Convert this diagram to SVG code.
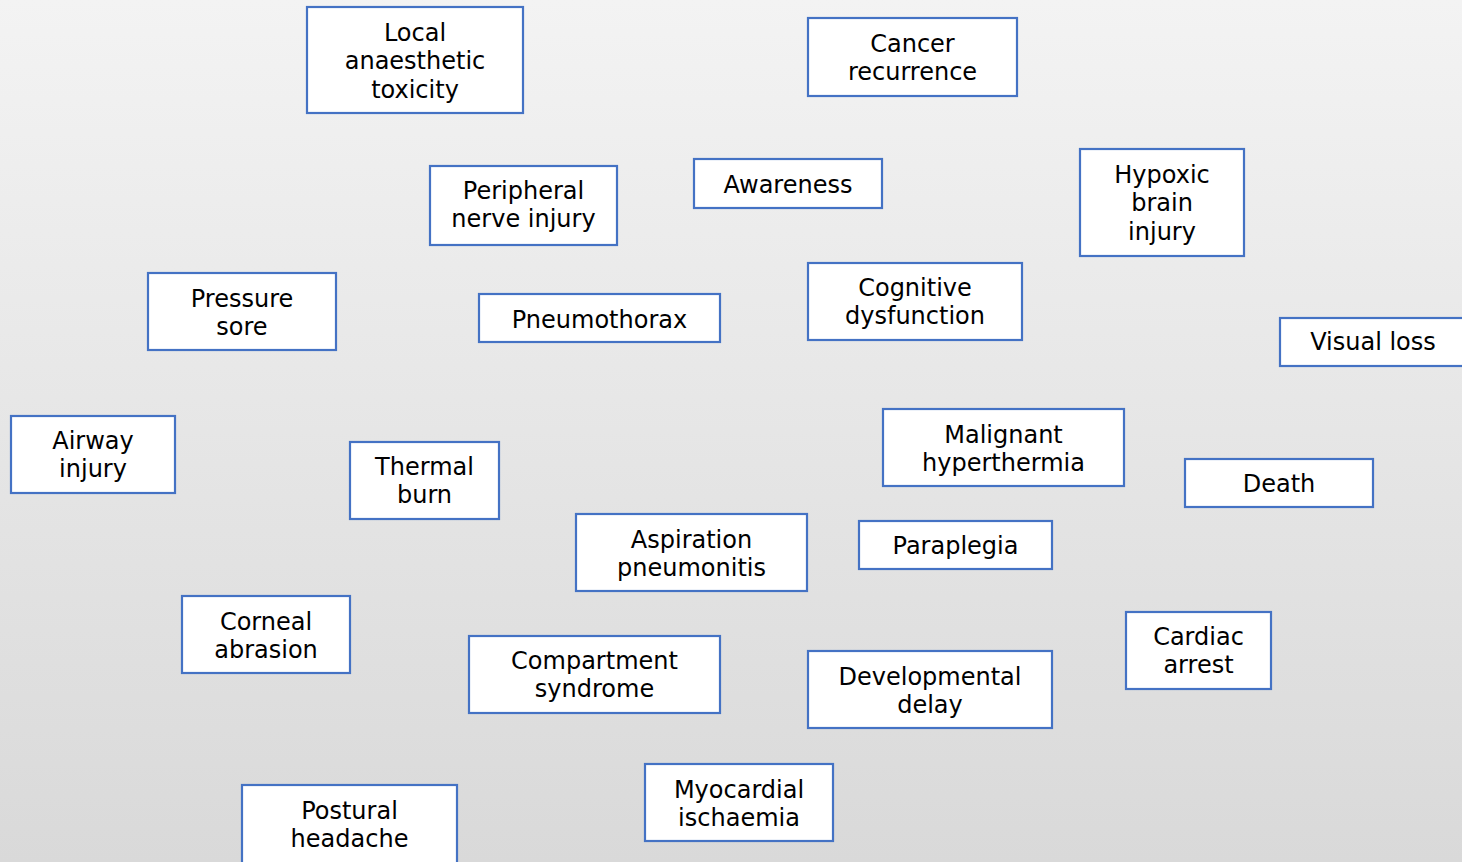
<svg xmlns="http://www.w3.org/2000/svg" width="1462" height="862" viewBox="0 0 1462 862">
<defs>
<linearGradient id="bg" x1="0" y1="0" x2="0" y2="1">
<stop offset="0" stop-color="#f3f3f3"/>
<stop offset="1" stop-color="#d9d9d9"/>
</linearGradient>
<style>
.box{fill:#ffffff;stroke:#4472c4;stroke-width:2.2}
.t{font-family:"DejaVu Sans",Verdana,sans-serif;font-size:24px;fill:#000000;text-anchor:middle}
</style>
</defs>
<rect x="0" y="0" width="1462" height="862" fill="url(#bg)"/>
<g id="connectors"></g>
<g id="n1"><rect class="box" x="307" y="7" width="216" height="106"/><text class="t"><tspan x="415" y="40.5">Local</tspan><tspan x="415" y="69">anaesthetic</tspan><tspan x="415" y="97.5">toxicity</tspan></text></g>
<g id="n2"><rect class="box" x="808" y="18" width="209" height="78"/><text class="t"><tspan x="912.5" y="51.5">Cancer</tspan><tspan x="912.5" y="80">recurrence</tspan></text></g>
<g id="n3"><rect class="box" x="430" y="166" width="187" height="79"/><text class="t"><tspan x="523.5" y="198.5">Peripheral</tspan><tspan x="523.5" y="227">nerve injury</tspan></text></g>
<g id="n4"><rect class="box" x="694" y="159" width="188" height="49"/><text class="t"><tspan x="788" y="192.5">Awareness</tspan></text></g>
<g id="n5"><rect class="box" x="1080" y="149" width="164" height="107"/><text class="t"><tspan x="1162" y="182.5">Hypoxic</tspan><tspan x="1162" y="211">brain</tspan><tspan x="1162" y="239.5">injury</tspan></text></g>
<g id="n6"><rect class="box" x="148" y="273" width="188" height="77"/><text class="t"><tspan x="242" y="306.5">Pressure</tspan><tspan x="242" y="335">sore</tspan></text></g>
<g id="n7"><rect class="box" x="479" y="294" width="241" height="48"/><text class="t"><tspan x="599.5" y="327.5">Pneumothorax</tspan></text></g>
<g id="n8"><rect class="box" x="808" y="263" width="214" height="77"/><text class="t"><tspan x="915" y="295.5">Cognitive</tspan><tspan x="915" y="324">dysfunction</tspan></text></g>
<g id="n9"><rect class="box" x="1280" y="318" width="190" height="48"/><text class="t"><tspan x="1373" y="349.5">Visual loss</tspan></text></g>
<g id="n10"><rect class="box" x="11" y="416" width="164" height="77"/><text class="t"><tspan x="93" y="448.5">Airway</tspan><tspan x="93" y="477">injury</tspan></text></g>
<g id="n11"><rect class="box" x="350" y="442" width="149" height="77"/><text class="t"><tspan x="424.5" y="474.5">Thermal</tspan><tspan x="424.5" y="503">burn</tspan></text></g>
<g id="n12"><rect class="box" x="883" y="409" width="241" height="77"/><text class="t"><tspan x="1003.5" y="442.5">Malignant</tspan><tspan x="1003.5" y="471">hyperthermia</tspan></text></g>
<g id="n13"><rect class="box" x="1185" y="459" width="188" height="48"/><text class="t"><tspan x="1279" y="491.5">Death</tspan></text></g>
<g id="n14"><rect class="box" x="576" y="514" width="231" height="77"/><text class="t"><tspan x="691.5" y="547.5">Aspiration</tspan><tspan x="691.5" y="576">pneumonitis</tspan></text></g>
<g id="n15"><rect class="box" x="859" y="521" width="193" height="48"/><text class="t"><tspan x="955.5" y="553.5">Paraplegia</tspan></text></g>
<g id="n16"><rect class="box" x="182" y="596" width="168" height="77"/><text class="t"><tspan x="266" y="629.5">Corneal</tspan><tspan x="266" y="658">abrasion</tspan></text></g>
<g id="n17"><rect class="box" x="469" y="636" width="251" height="77"/><text class="t"><tspan x="594.5" y="668.5">Compartment</tspan><tspan x="594.5" y="697">syndrome</tspan></text></g>
<g id="n18"><rect class="box" x="808" y="651" width="244" height="77"/><text class="t"><tspan x="930" y="684.5">Developmental</tspan><tspan x="930" y="713">delay</tspan></text></g>
<g id="n19"><rect class="box" x="1126" y="612" width="145" height="77"/><text class="t"><tspan x="1198.5" y="644.5">Cardiac</tspan><tspan x="1198.5" y="673">arrest</tspan></text></g>
<g id="n20"><rect class="box" x="645" y="764" width="188" height="77"/><text class="t"><tspan x="739" y="797.5">Myocardial</tspan><tspan x="739" y="826">ischaemia</tspan></text></g>
<g id="n21"><rect class="box" x="242" y="785" width="215" height="85"/><text class="t"><tspan x="349.5" y="818.5">Postural</tspan><tspan x="349.5" y="847">headache</tspan></text></g>
</svg>
